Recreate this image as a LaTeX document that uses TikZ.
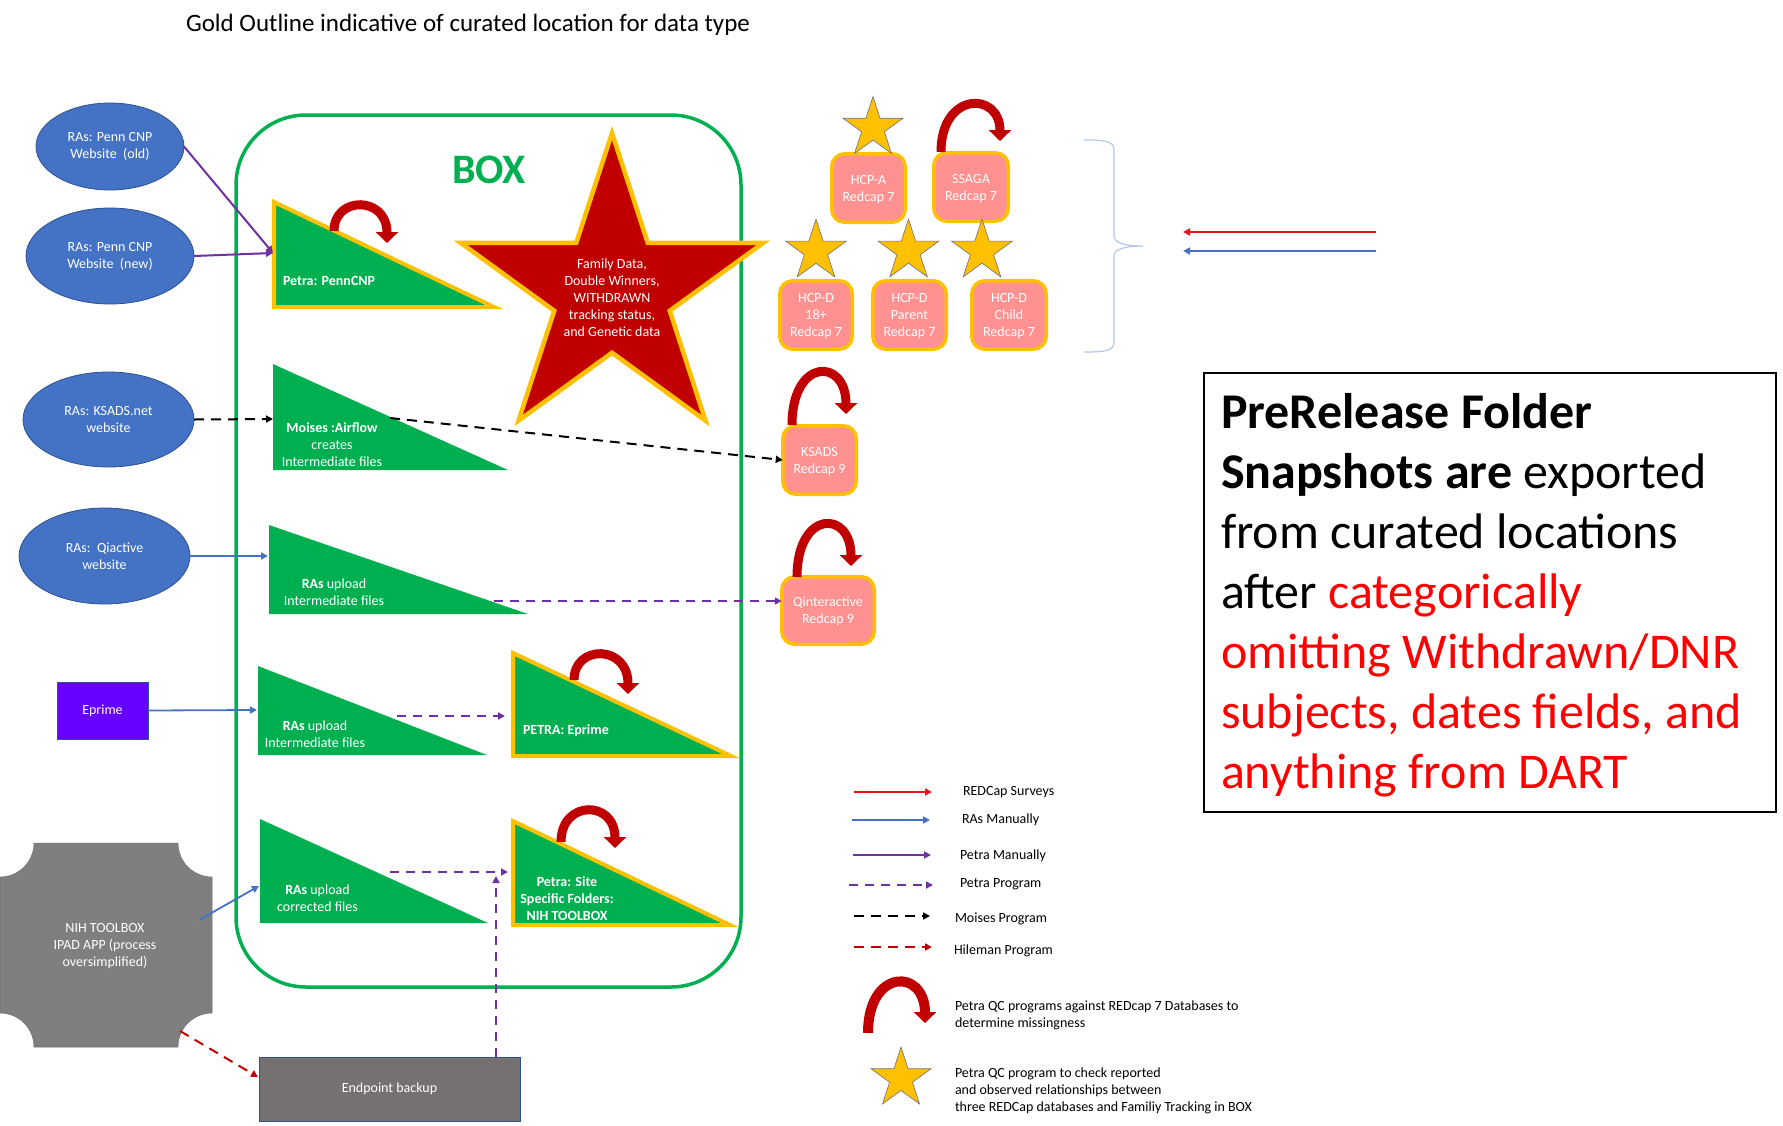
\documentclass[tikz,border=0pt]{standalone}
\usepackage{fontspec}
\setmainfont{Carlito}
\usetikzlibrary{shapes.geometric,arrows.meta,calc}
\definecolor{boxgreen}{RGB}{0,176,80}
\definecolor{gold}{RGB}{255,192,0}
\definecolor{darkred}{RGB}{192,0,0}
\definecolor{elblue}{RGB}{68,114,196}
\definecolor{elborder}{RGB}{47,82,143}
\definecolor{purp}{RGB}{112,48,160}
\definecolor{pinkbox}{RGB}{255,145,145}
\definecolor{eprimec}{RGB}{102,0,255}
\definecolor{nihgrey}{RGB}{127,127,127}
\definecolor{endgrey}{RGB}{118,113,113}
\definecolor{bracec}{RGB}{180,199,231}
\definecolor{redc}{RGB}{230,20,20}
\definecolor{prered}{RGB}{255,0,0}
\definecolor{starline}{RGB}{110,110,130}
\newcommand\fivestar[4]{%
  \path[#1] ([shift={(#2,#3)}]-90:#4)
  \foreach \a/\r in {-54/0.382,-18/1,18/0.382,54/1,90/0.382,126/1,162/0.382,198/1,234/0.382}
    { -- ([shift={(#2,#3)}]\a:{\r*#4}) } -- cycle;}
\begin{document}
\begin{tikzpicture}[x=1pt,y=-1pt,
  every node/.style={inner sep=0pt, outer sep=0pt},
  f14/.style={font=\fontsize{14}{17}\selectfont},
  ell/.style={ellipse, fill=elblue, draw=elborder, line width=0.8pt, text=white, align=center, f14},
  tri/.style={fill=boxgreen},
  gtri/.style={fill=boxgreen, draw=gold, line width=4pt},
  ttext/.style={text=white, align=center, f14},
  pbox/.style={rounded corners=13pt, fill=pinkbox, draw=gold, line width=3.5pt, text=white, align=center, f14},
  qca/.style={draw=darkred, line width=9pt, -{Triangle[length=11pt,width=22pt]}},
  smalltip/.style={-{Triangle[length=7pt,width=7pt]}},
  purpline/.style={draw=purp, line width=2pt, smalltip},
  purpdash/.style={draw=purp, line width=2pt, dash pattern=on 9pt off 7pt, smalltip},
  blueline/.style={draw=elblue, line width=1.8pt, smalltip},
  blackdash/.style={draw=black, line width=2pt, dash pattern=on 10pt off 7pt, smalltip},
  reddash/.style={draw=darkred, line width=2pt, dash pattern=on 10pt off 7pt, smalltip},
  redline/.style={draw=redc, line width=2.4pt, smalltip},
  goldstar/.style={fill=gold, draw=starline, line width=0.6pt},
  legtext/.style={anchor=west, align=left, f14}
]
\useasboundingbox (0,0) rectangle (1783,1125);
\fill[white] (0,0) rectangle (1783,1125);

% title
\node[anchor=west, font=\fontsize{25}{30}\selectfont] (title) at (186,25) {Gold Outline indicative of curated location for data type};

% BOX
\draw[boxgreen, line width=3.5pt, rounded corners=70pt] (236,115) rectangle (741,987);
\node[text=boxgreen, font=\fontsize{42}{50}\selectfont\bfseries] (boxlabel) at (489,170) {BOX};

% triangles
\path[gtri] (274,202) -- (274,307) -- (494,307) -- cycle;
\path[tri] (273,364) -- (273,470) -- (508,470) -- cycle;
\path[tri] (269,525) -- (269,614) -- (528,614) -- cycle;
\path[tri] (258,666) -- (258,755) -- (487,755) -- cycle;
\path[gtri] (513,653) -- (513,756) -- (731,756) -- cycle;
\path[tri] (260,819) -- (260,923) -- (488,923) -- cycle;
\path[gtri] (513,821) -- (513,925) -- (730,925) -- cycle;

\node[ttext, anchor=west, font=\fontsize{14}{17}\selectfont\bfseries] (t1) at (283,281) {Petra: PennCNP};
\node[ttext] (t2) at (332,445) {\textbf{Moises :Airflow}\\creates\\Intermediate files};
\node[ttext] (t3) at (334,592) {\textbf{RAs} upload\\Intermediate files};
\node[ttext] (t4) at (315,734) {\textbf{RAs} upload\\Intermediate files};
\node[ttext, anchor=west, font=\fontsize{14}{17}\selectfont\bfseries] (t5) at (523,731) {PETRA: Eprime};
\node[ttext] (t6) at (317.5,898.5) {\textbf{RAs} upload\\corrected files};
\node[ttext, font=\fontsize{14}{17}\selectfont\bfseries] (t7) at (567,899) {Petra: Site\\Specific Folders:\\NIH TOOLBOX};

% big star
\fivestar{fill=darkred, draw=gold, line width=4.5pt}{612}{292}{159}
\node[ttext] (famstar) at (612,298) {Family Data,\\Double Winners,\\WITHDRAWN\\tracking status,\\and Genetic data};

% pink boxes
\node[pbox, minimum width=73.5pt, minimum height=68.5pt] (hcpa) at (868.5,188) {\strut HCP-A\\Redcap 7};
\node[pbox, minimum width=74.5pt, minimum height=68.5pt] (ssaga) at (971,187) {\strut SSAGA\\Redcap 7};
\node[pbox, minimum width=72.5pt, minimum height=68.5pt] (hcpd18) at (816,315) {\strut HCP-D\\18+\\Redcap 7};
\node[pbox, minimum width=73.5pt, minimum height=68.5pt] (hcpdpar) at (909.5,315) {\strut HCP-D\\Parent\\Redcap 7};
\node[pbox, minimum width=74.5pt, minimum height=68.5pt] (hcpdch) at (1009,315) {\strut HCP-D\\Child\\Redcap 7};
\node[pbox, minimum width=73.5pt, minimum height=68.5pt] (ksads) at (819.5,460) {\strut KSADS\\Redcap 9};
\node[pbox, minimum width=92.5pt, minimum height=67.5pt] (qint) at (828,610.5) {\strut Qinteractive\\Redcap 9};

% gold stars
\fivestar{goldstar}{873}{128}{31.5}
\fivestar{goldstar}{816}{251}{32}
\fivestar{goldstar}{908.5}{251}{32}
\fivestar{goldstar}{982}{251}{32}

% QC arcs
\draw[qca] (334,231) .. controls (334,195.7) and (387,195.7) .. (387,243);
\draw[qca] (941,152) .. controls (941,91.2) and (1000,91.2) .. (1000,141);
\draw[qca] (792,425) .. controls (792,357.5) and (846,357.5) .. (846,414);
\draw[qca] (797,577) .. controls (797,509.5) and (851,509.5) .. (851,566);
\draw[qca] (574,680) .. controls (574,644.3) and (628,644.3) .. (628,694);
\draw[qca] (561,842) .. controls (561,799.7) and (615,799.7) .. (615,848);

% sources
\node[ell, minimum width=148pt, minimum height=87pt] (e1) at (110,146.5) {RAs: Penn CNP\\Website\ \ (old)};
\node[ell, minimum width=168pt, minimum height=96pt] (e2) at (110,256) {RAs: Penn CNP\\Website\ \ (new)};
\node[ell, minimum width=171pt, minimum height=95pt] (e3) at (108.5,419.5) {RAs: KSADS.net\\website};
\node[ell, minimum width=171pt, minimum height=96pt] (e4) at (104.5,556) {RAs:\ \ Qiactive\\website};
\node[fill=eprimec, draw=elborder, line width=0.6pt, minimum width=91pt, minimum height=57pt, text=white, f14] (eprime) at (102.5,710.5) {Eprime};
\path[fill=nihgrey, draw=starline, line width=0.5pt] (34,843) -- (178,843) arc[start angle=180, end angle=90, radius=34]
  -- (212,1013) arc[start angle=270, end angle=180, radius=34]
  -- (34,1047) arc[start angle=0, end angle=-90, radius=34]
  -- (0,877) arc[start angle=90, end angle=0, radius=34] -- cycle;
\node[text=white, align=center, f14] (nih) at (105,946) {NIH TOOLBOX\\IPAD APP (process\\oversimplified)};
\node[fill=endgrey, draw=elborder, line width=0.6pt, minimum width=261pt, minimum height=64pt, text=white, f14] (endp) at (389.5,1089) {Endpoint backup};

% connector coordinates
\coordinate (t1in) at (273,253);
\coordinate (t2in) at (273,419);
\coordinate (t2out) at (390,418);
\coordinate (t3in) at (268,556);
\coordinate (t3out) at (494,601);
\coordinate (t4in) at (257,710);
\coordinate (t4out) at (397,716);
\coordinate (t5in) at (505,716);
\coordinate (nihout) at (199,920);
\coordinate (t6in) at (259,886);
\coordinate (t6out) at (390,872);
\coordinate (t7in) at (508,872);
\coordinate (jn) at (496,876);
\coordinate (nihlow) at (180,1031);
\coordinate (endin) at (258,1077);

% connectors
\draw[purpline] (e1.east) -- (t1in);
\draw[purpline] (e2.east) -- (t1in);
\draw[blackdash] (e3.east) -- (t2in);
\draw[blackdash] (t2out) -- (ksads.west);
\draw[blueline] (e4.east) -- (t3in);
\draw[purpdash] (t3out) -- (t3out -| qint.west);
\draw[blueline] (eprime.east) -- (t4in);
\draw[purpdash] (t4out) -- (t5in);
\draw[blueline] (nihout) -- (t6in);
\draw[purpdash] (t6out) -- (t7in);
\draw[purpdash] (jn |- endp.north) -- (jn);
\draw[reddash] (nihlow) -- (endin);

% brace and left arrows
\draw[bracec, line width=1.2pt] (1084,140) .. controls (1105,140) and (1114,141) .. (1114,150) -- (1114,236)
  .. controls (1114,243) and (1125,246) .. (1143,246)
  .. controls (1125,246) and (1114,249) .. (1114,256) -- (1114,342)
  .. controls (1114,351) and (1105,352) .. (1084,352);
\coordinate (ra1) at (1376,232);
\coordinate (ra2) at (1183,232);
\coordinate (ba1) at (1376,251);
\coordinate (ba2) at (1183,251);
\draw[redline] (ra1) -- (ra2);
\draw[blueline, line width=2.4pt] (ba1) -- (ba2);

% PreRelease box
\draw[black, line width=2.2pt] (1204,373) rectangle (1776,812);
\node[anchor=north west, align=left, font=\fontsize{50}{60}\selectfont] (pretext) at (1221,393)
{\textbf{PreRelease Folder}\\
\textbf{Snapshots are} exported\\
from curated locations\\
after \textcolor{prered}{categorically}\\
\textcolor{prered}{omitting Withdrawn/DNR}\\
\textcolor{prered}{subjects, dates fields, and}\\
\textcolor{prered}{anything from DART}};

% legend
\coordinate (l1a) at (854,792); \coordinate (l1b) at (932,792);
\coordinate (l2a) at (852,820); \coordinate (l2b) at (930,820);
\coordinate (l3a) at (853,855); \coordinate (l3b) at (931,855);
\coordinate (l4a) at (849,885); \coordinate (l4b) at (933,885);
\coordinate (l5a) at (854,916); \coordinate (l5b) at (930,916);
\coordinate (l6a) at (854,947); \coordinate (l6b) at (932,947);
\draw[redline] (l1a) -- (l1b);
\draw[blueline, line width=2.4pt] (l2a) -- (l2b);
\draw[purpline, line width=2.4pt] (l3a) -- (l3b);
\draw[purpdash, line width=2.4pt] (l4a) -- (l4b);
\draw[blackdash, line width=2.4pt] (l5a) -- (l5b);
\draw[reddash, line width=2.4pt] (l6a) -- (l6b);
\node[legtext] (lg1) at (963,792) {REDCap Surveys};
\node[legtext] (lg2) at (962,820) {RAs Manually};
\node[legtext] (lg3) at (960,856) {Petra Manually};
\node[legtext] (lg4) at (960,884) {Petra Program};
\node[legtext] (lg5) at (955,919) {Moises Program};
\node[legtext] (lg6) at (954,951) {Hileman Program};
\draw[qca, line width=10pt, -{Triangle[length=11pt,width=22pt]}] (868,1033) .. controls (868,968) and (925,968) .. (925,1023);
\node[legtext] (lg7) at (955,1015) {Petra QC programs against REDcap 7 Databases to\\determine missingness};
\fivestar{goldstar}{901}{1078.5}{31.5}
\node[legtext] (lg8) at (955,1091) {Petra QC program to check reported\\and observed relationships between\\three REDCap databases and Familiy Tracking in BOX};
\end{tikzpicture}
\end{document}
